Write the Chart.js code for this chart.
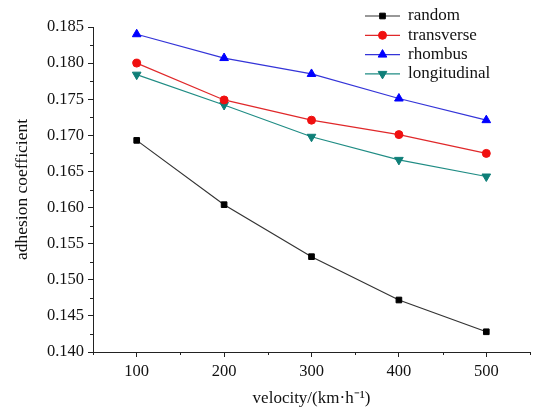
<!DOCTYPE html>
<html>
<head>
<meta charset="utf-8">
<script src="https://cdn.jsdelivr.net/npm/chart.js@4"></script>
<style>
  html, body { margin: 0; padding: 0; background: #fff; }
  #wrap { width: 536px; height: 412px; }
</style>
</head>
<body>
<div id="wrap"><canvas id="c"></canvas></div>
<script>
// 速度 (km/h)
const velocity = [100, 200, 300, 400, 500];
// 各纹理的粘着系数
const random = [0.1693, 0.1604, 0.1532, 0.1472, 0.1428];
const transverse = [0.1800, 0.1749, 0.1721, 0.1701, 0.1675];
const rhombus = [0.1840, 0.1807, 0.1785, 0.1751, 0.1721];
const longitudinal = [0.1784, 0.1742, 0.1698, 0.1666, 0.1643];

const xTicks = [100, 200, 300, 400, 500];
const xMinor = [50, 150, 250, 350, 450, 550];
const yTicks = [0.140, 0.145, 0.150, 0.155, 0.160, 0.165, 0.170, 0.175, 0.180, 0.185];
const yMinor = [0.1425, 0.1475, 0.1525, 0.1575, 0.1625, 0.1675, 0.1725, 0.1775, 0.1825];

const FONT = '"Liberation Serif", "Times New Roman", serif';

function pts(arr) {
    return arr.map((v, i) => ({ x: velocity[i], y: v }));
}

// 次刻度
const minorTicks = {
    id: 'minorTicks',
    afterDraw(chart) {
        const ctx = chart.ctx;
        const xs = chart.scales.x, ys = chart.scales.y;
        ctx.save();
        ctx.strokeStyle = '#222';
        ctx.lineWidth = 1;
        ctx.beginPath();
        xMinor.forEach(v => {
            const px = Math.round(xs.getPixelForValue(v)) + 0.5;
            ctx.moveTo(px, ys.bottom);
            ctx.lineTo(px, ys.bottom + 3);
        });
        yMinor.forEach(v => {
            const py = Math.round(ys.getPixelForValue(v)) + 0.5;
            ctx.moveTo(xs.left, py);
            ctx.lineTo(xs.left - 3, py);
        });
        ctx.stroke();
        ctx.restore();
    }
};

// 图例（线 + 标记）
function markerLegend(chart) {
    const ctx = chart.ctx;
    chart.data.datasets.forEach((ds, i) => {
        const y = 16 + i * 19.3;
        ctx.save();
        ctx.strokeStyle = ds.borderColor;
        ctx.lineWidth = 1.2;
        ctx.beginPath();
        ctx.moveTo(365, y);
        ctx.lineTo(400, y);
        ctx.stroke();
        ctx.fillStyle = ds.pointBackgroundColor;
        ctx.strokeStyle = ds.pointBorderColor;
        ctx.lineWidth = 1;
        Chart.helpers.drawPoint(ctx, {
            pointStyle: ds.pointStyle,
            radius: ds.pointRadius,
            rotation: ds.pointRotation || 0,
            borderWidth: 1
        }, 382.5, y);
        ctx.fillStyle = '#111';
        ctx.font = '17px ' + FONT;
        ctx.textBaseline = 'middle';
        ctx.fillText(ds.label, 408, y);
        ctx.restore();
    });
}

const chart = new Chart(document.getElementById('c'), {
    type: 'line',
    data: {
        datasets: [
            { label: 'random', data: pts(random), borderColor: '#333', pointBackgroundColor: '#000', pointBorderColor: '#000', pointStyle: 'rect', pointRadius: 4 },
            { label: 'transverse', data: pts(transverse), borderColor: '#e0282a', pointBackgroundColor: '#f01010', pointBorderColor: '#f01010', pointStyle: 'circle', pointRadius: 4 },
            { label: 'rhombus', data: pts(rhombus), borderColor: '#3434d8', pointBackgroundColor: '#0000ff', pointBorderColor: '#0000ff', pointStyle: 'triangle', pointRadius: 5 },
            { label: 'longitudinal', data: pts(longitudinal), borderColor: '#1f8c84', pointBackgroundColor: '#0f7f78', pointBorderColor: '#0f7f78', pointStyle: 'triangle', pointRotation: 180, pointRadius: 5 }
        ].map(d => Object.assign({ borderWidth: 1.2, tension: 0, pointBorderWidth: 1, fill: false }, d))
    },
    options: {
        responsive: true,
        maintainAspectRatio: false,
        animation: false,
        layout: { padding: { top: 27, right: 5, left: 0, bottom: 0 } },
        plugins: {
            legend: { display: false },
            tooltip: { enabled: false }
        },
        scales: {
            x: {
                type: 'linear',
                min: 50,
                max: 550,
                afterBuildTicks: s => { s.ticks = xTicks.map(v => ({ value: v })); },
                afterFit: s => { s.height = 60; },
                grid: { drawOnChartArea: false, drawTicks: true, tickLength: 5, color: '#222' },
                border: { color: '#222', width: 1 },
                ticks: { color: '#111', font: { family: FONT, size: 16.5 }, padding: 5 },
                title: { display: true, text: 'velocity/(km·h⁻¹)', color: '#111', font: { family: FONT, size: 17 }, padding: { top: 2, bottom: 3 } }
            },
            y: {
                min: 0.140,
                max: 0.185,
                afterBuildTicks: s => { s.ticks = yTicks.map(v => ({ value: v })); },
                afterFit: s => { s.width = 93; },
                grid: { drawOnChartArea: false, drawTicks: true, tickLength: 5, color: '#222' },
                border: { color: '#222', width: 1 },
                ticks: { color: '#111', font: { family: FONT, size: 16.5 }, padding: 4, callback: v => v.toFixed(3) },
                title: { display: true, text: 'adhesion coefficient', color: '#111', font: { family: FONT, size: 17.5 }, padding: { top: 12, bottom: 4 } }
            }
        }
    },
    plugins: [minorTicks, { id: 'legendBox', afterDraw: markerLegend }]
});
</script>
</body>
</html>
